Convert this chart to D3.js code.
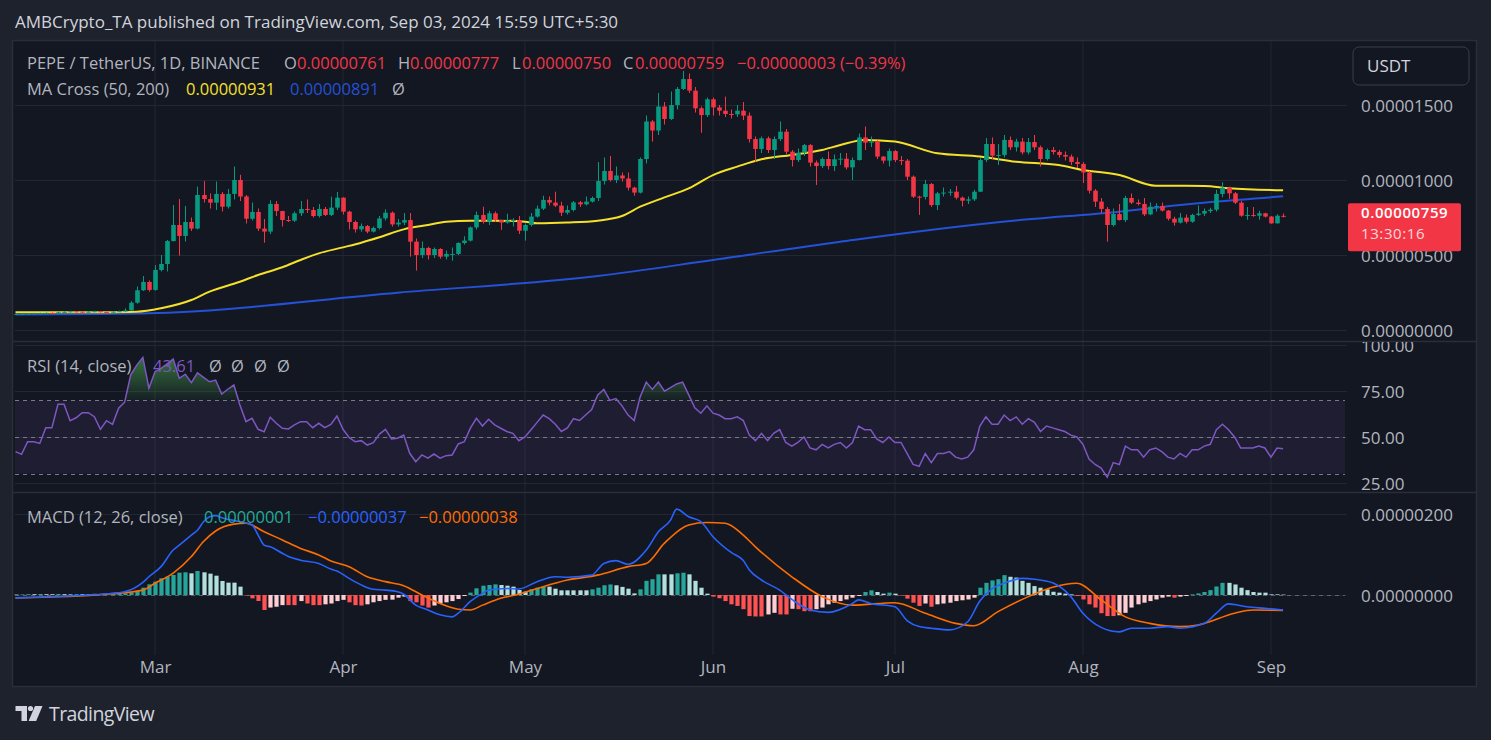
<!DOCTYPE html>
<html><head><meta charset="utf-8">
<script src="https://cdn.jsdelivr.net/npm/d3@7"></script>
<style>
html,body{margin:0;padding:0;background:#1e222d;overflow:hidden}
svg{display:block}
</style></head><body>
<svg id="c" width="1491" height="740"></svg>
<script>
// ---------------- DATA (prices in units of 1e-6 USDT) ----------------
const startDate = "2024-02-07";           // first daily candle
const firstOpen = 1.06;                  // open of first candle (later opens = previous close unless listed)
const openOverride = {209: 7.61};        // opens
const close = [
1.07,1.08,1.10,1.11,1.12,1.14,1.13,1.18,1.21,1.24,1.22,1.20,1.22,1.25,1.20,1.19,1.22,1.25,1.30,
1.82,2.65,3.20,2.67,
4.00,4.40,5.93,7.00,6.27,7.20,6.76,9.00,8.73,8.49,
9.07,8.22,9.07,10.00,8.90,7.42,7.87,6.76,6.56,8.40,
7.93,7.33,7.29,7.78,8.07,8.00,7.60,8.07,7.67,8.16,
8.82,7.89,7.20,6.71,6.93,6.56,6.80,7.44,7.82,7.04,
7.16,7.33,5.89,5.00,5.47,5.00,5.40,4.89,5.07,5.07,
5.80,5.96,6.84,7.67,7.22,7.78,7.33,7.16,7.30,7.33,
6.62,7.00,7.56,8.09,8.67,8.49,8.29,7.82,8.00,8.51,
8.38,8.56,8.80,9.93,10.60,10.00,10.30,10.10,9.49,9.16,
11.40,13.90,13.30,14.90,14.07,15.00,16.07,16.73,15.96,14.78,
14.33,15.38,14.84,14.62,14.40,14.38,14.62,14.29,12.73,12.07,
12.78,12.00,12.73,13.22,11.89,11.33,11.82,12.33,11.16,10.93,
11.40,10.93,11.38,11.42,10.84,11.33,12.84,12.49,12.56,11.56,
11.29,11.93,11.33,11.29,10.22,8.89,8.87,9.73,8.33,9.11,
9.16,9.22,8.82,8.62,8.71,9.22,11.33,12.40,11.62,11.67,
12.67,12.18,12.56,11.84,12.53,12.18,11.40,12.00,11.87,11.67,
11.56,11.20,11.07,10.50,9.29,8.56,8.07,7.00,7.73,7.33,
8.80,8.49,8.40,7.71,8.22,8.27,7.96,7.42,7.16,7.49,
7.22,7.67,7.76,7.93,8.02,9.07,9.49,9.11,8.49,7.62,
7.67,7.62,7.78,7.56,7.11,7.62,7.59];
const high = [
1.10,1.11,1.12,1.14,1.15,1.17,1.17,1.22,1.25,1.28,1.27,1.24,1.25,1.29,1.27,1.23,1.25,1.29,1.45,
1.92,2.90,3.60,3.30,
4.33,5.00,6.00,8.33,8.73,8.27,7.50,9.56,9.93,9.10,
9.90,9.20,9.40,10.90,10.35,9.00,8.50,8.10,7.40,8.65,
8.60,7.95,7.60,7.90,8.60,8.70,8.20,8.40,8.20,8.89,
9.20,8.85,7.95,7.30,7.10,7.00,6.90,7.60,8.05,7.90,
7.40,7.80,7.80,6.10,5.90,5.55,5.50,5.45,5.30,5.50,
5.85,6.25,6.90,7.90,8.22,7.95,7.90,7.35,7.75,7.45,
7.60,7.10,7.80,8.30,8.95,8.90,9.22,8.55,8.30,8.60,
8.60,8.90,8.90,11.20,11.50,11.60,10.90,10.50,10.50,9.55,
11.50,14.30,14.00,15.80,15.20,15.90,16.20,17.27,17.10,16.20,
14.90,15.50,15.50,15.00,15.56,14.70,15.00,15.20,14.50,12.90,
12.90,12.90,12.90,13.90,13.40,12.00,12.10,12.40,12.40,11.30,
11.50,11.90,11.70,11.80,11.80,11.50,13.10,13.56,12.90,12.65,
11.60,12.10,12.00,11.60,11.40,10.30,8.95,10.00,9.80,9.20,
9.50,9.40,9.60,8.90,8.90,9.35,11.45,12.80,12.84,12.40,
13.00,12.90,12.75,12.80,12.80,13.00,12.30,12.10,12.20,12.00,
11.90,11.70,11.50,11.20,10.60,9.40,8.80,8.20,8.10,8.40,
8.95,9.10,8.70,8.80,8.50,8.45,8.50,8.00,7.55,7.80,
7.70,7.75,8.30,8.10,8.15,9.35,9.84,9.55,9.20,8.60,
8.20,8.20,7.95,7.82,7.60,7.72,7.77];
const low = [
1.04,1.05,1.06,1.08,1.09,1.10,1.10,1.12,1.16,1.19,1.18,1.15,1.18,1.19,1.17,1.15,1.17,1.20,1.22,
1.28,1.75,2.60,2.55,
2.62,3.90,3.90,5.90,4.96,5.90,6.60,6.70,8.50,8.10,
8.00,7.90,8.10,8.70,8.60,7.10,7.30,6.60,5.82,6.40,
7.60,6.90,7.20,7.20,7.60,7.80,7.50,7.50,7.60,7.60,
8.00,7.70,6.70,6.50,6.55,6.45,6.50,6.70,7.30,6.90,
6.90,7.00,4.89,3.96,4.80,4.70,4.80,4.75,4.70,4.62,
5.00,5.70,5.90,6.70,7.10,7.00,7.20,6.67,7.10,6.90,
6.40,5.96,6.90,7.50,8.00,8.30,8.20,7.60,7.70,7.90,
8.20,8.30,8.50,8.60,9.70,9.90,9.80,9.90,9.30,8.95,
9.10,11.10,12.56,13.00,13.70,14.00,14.70,16.00,15.80,14.50,
13.15,14.20,14.30,14.30,14.20,14.10,14.20,14.00,12.50,11.22,
11.80,11.80,11.40,12.60,11.70,10.90,11.20,11.60,10.90,9.67,
10.80,10.70,10.60,11.00,10.70,10.00,11.30,12.00,12.20,11.40,
11.10,10.90,11.20,11.00,10.00,8.80,7.67,8.70,8.20,8.00,
8.90,8.95,8.70,8.25,8.40,8.60,9.20,11.20,11.40,11.00,
11.50,12.00,11.90,11.70,11.70,12.00,10.90,11.30,11.70,11.50,
11.30,11.00,10.80,9.80,9.10,8.20,7.80,5.89,6.90,7.30,
7.20,8.40,8.30,7.60,7.65,7.90,7.90,7.30,6.95,7.10,
7.10,7.15,7.60,7.60,7.80,7.90,8.85,8.75,8.40,7.55,
7.35,7.55,7.35,7.50,7.08,7.10,7.50];

// MA Cross (at these candle indexes)
const ma50Idx = [0,14,20,24,29,32,37,40,44,47,50,54,57,60,64,68,71,75,79,84,86,91,96,100,103,107,111,115,119,123,128,133,136,140,145,152,159,165,172,176,182,188,196,200,209];
const ma50Val = [1.18,1.19,1.22,1.45,2.00,2.56,3.22,3.67,4.18,4.67,5.11,5.51,5.82,6.18,6.71,7.00,7.22,7.29,7.29,7.22,7.11,7.16,7.29,7.60,8.22,8.84,9.44,10.33,10.89,11.38,11.67,12.00,12.33,12.67,12.56,11.78,11.56,11.22,11.00,10.67,10.33,9.62,9.60,9.45,9.31];
const ma200Idx = [0,14,22,63,96,115,136,167,171,182,192,198,209];
const ma200Val = [1.03,1.07,1.11,2.49,3.60,4.67,5.89,7.38,7.51,7.89,8.33,8.56,8.91];

// RSI (14) per candle
const rsi = [
42,40.5,47.4,47.4,46.5,55,55,67.9,67.9,58.9,
60.5,63.3,63.3,61.1,54.2,58.9,56.9,65.7,69,84,
89.3,93.5,76.6,85.7,87.5,90,92.6,82.1,84.3,79.7,
85.1,82.6,80.2,81.1,73.5,76.1,78.4,67.5,58.4,60.2,
54.2,52.9,60.8,57.5,54.8,54.4,56.6,58.4,58.4,55.1,
57.5,55.1,56.9,61.5,54.2,49.8,47.4,48,45.6,46.9,
51.6,54.2,48.9,49.3,51.1,41.1,36.5,40.2,38.4,40.7,
38.4,39.8,40.2,46.2,47.4,54.8,60.2,56,59.7,56.6,
54.8,53,52,48,50,54,58,62,60,57,
53,55,60,59,62,65,73,76,70,71,
67,62,59,72,80,76,80,75,77,79,
80,73,66,63,67,63,62,60,60,61,
59,51,48,52,48,52,54,47,45,47,
50,44,43,46,44,46,47,44,47,56,
54,54,49,47,50,47,47,41,35,34,
41,36,41,41,42,39,38,39,43,56,
61,57,57,62,59,61,57,60,58,53,
56,55,54,53,51,50,46,38,35,33,
28,36,35,45,43,43,39,43,44,42,
39,38,41,39,43,43,45,46,54,57,
54,50,44,44,44,45,44,39,44,43.61];

// MACD (12, 26) histogram per candle
const hist = [
0.01,0.015,0.02,0.02,0.025,0.02,0.02,0.025,0.02,0.015,0.02,0.02,0.025,0.03,0.02,0.015,0.02,0.03,0.04,
0.058,0.107,0.181,0.263,
0.329,0.412,0.453,0.494,0.551,0.56,0.535,0.593,0.56,0.527,
0.477,0.346,0.305,0.305,0.206,-0.01,-0.082,-0.148,-0.37,-0.31,
-0.29,-0.25,-0.25,-0.25,-0.15,-0.21,-0.25,-0.25,-0.23,-0.21,
-0.15,-0.12,-0.18,-0.25,-0.26,-0.23,-0.18,-0.15,-0.12,-0.115,
-0.066,-0.04,-0.15,-0.18,-0.26,-0.31,-0.26,-0.21,-0.18,-0.15,
-0.10,-0.025,0.058,0.165,0.23,0.247,0.263,0.247,0.23,0.206,
0.123,0.082,0.14,0.18,0.206,0.206,0.156,0.115,0.115,0.115,
0.115,0.115,0.14,0.18,0.24,0.26,0.24,0.20,0.156,0.04,
0.14,0.35,0.39,0.51,0.51,0.51,0.535,0.55,0.51,0.35,
0.18,0.033,-0.04,-0.08,-0.15,-0.23,-0.27,-0.35,-0.52,-0.53,
-0.53,-0.48,-0.44,-0.48,-0.48,-0.34,-0.35,-0.40,-0.40,-0.35,
-0.31,-0.23,-0.19,-0.15,-0.11,-0.066,-0.025,0.074,0.115,0.074,
0.033,0.058,0.033,-0.008,-0.09,-0.19,-0.27,-0.21,-0.29,-0.23,
-0.21,-0.19,-0.15,-0.13,-0.11,-0.066,0.18,0.30,0.36,0.39,
0.49,0.45,0.43,0.35,0.30,0.22,0.18,0.14,0.08,0.058,
0.033,0.016,-0.025,-0.11,-0.23,-0.31,-0.45,-0.52,-0.52,-0.50,
-0.44,-0.31,-0.23,-0.19,-0.15,-0.11,-0.066,-0.04,-0.066,-0.04,
-0.025,0.016,0.04,0.074,0.12,0.21,0.30,0.30,0.26,0.18,
0.12,0.074,0.058,0.058,0.016,0.016,0.01];
// MACD & signal lines read at these candle indexes
const macdIdx = [0,15,18,21,22,24,26,27,29,30,31,32,33,34,37,39,40,41,42,44,45,47,50,52,53,55,57,59,61,63,64,66,68,70,72,73,75,77,78,81,83,86,89,91,95,97,99,101,104,106,108,109,111,113,115,118,120,121,123,126,128,131,134,138,139,141,145,147,149,151,154,157,159,161,163,166,168,171,174,176,179,182,184,187,190,192,196,198,200,203,206,209];
const macdVal = [-0.07,0.03,0.08,0.31,0.45,0.70,1.11,1.23,1.48,1.60,1.81,1.93,1.96,1.91,1.81,1.73,1.48,1.23,1.19,1.03,0.95,0.86,0.78,0.64,0.59,0.41,0.25,0.14,0.12,0.08,0.02,-0.25,-0.37,-0.49,-0.54,-0.45,-0.16,0.04,0.12,0.16,0.15,0.33,0.45,0.44,0.49,0.78,0.85,0.76,1.11,1.56,1.85,2.12,1.93,1.81,1.44,1.05,0.85,0.62,0.37,0.12,-0.11,-0.37,-0.43,-0.21,-0.12,-0.21,-0.29,-0.63,-0.78,-0.82,-0.86,-0.66,-0.15,0.15,0.29,0.41,0.39,0.30,-0.04,-0.45,-0.80,-0.91,-0.82,-0.82,-0.78,-0.82,-0.70,-0.45,-0.22,-0.29,-0.33,-0.37];
const signalIdx = [0,15,21,23,26,29,31,33,36,38,41,44,47,50,52,55,58,61,64,67,70,73,75,77,80,83,86,91,96,101,104,107,111,114,117,120,122,128,133,138,145,150,155,158,162,167,171,175,179,183,187,192,195,201,204,209];
const signalVal = [-0.07,0.02,0.12,0.29,0.54,0.95,1.32,1.58,1.75,1.77,1.56,1.36,1.15,0.99,0.84,0.70,0.45,0.33,0.23,0.00,-0.21,-0.35,-0.37,-0.25,-0.08,0.02,0.16,0.37,0.49,0.70,0.78,1.28,1.73,1.79,1.77,1.48,1.19,0.45,-0.04,-0.25,-0.19,-0.45,-0.70,-0.76,-0.41,-0.04,0.19,0.29,-0.12,-0.54,-0.70,-0.78,-0.74,-0.45,-0.37,-0.38];

// axis ticks
const priceTicks = [0, 5, 10, 15];
const rsiTicks = [25, 50, 75, 100];
const rsiBands = [70, 50, 30];
const macdTicks = [0, 2];

// ---------------- LAYOUT ----------------
const W = 1491, H = 740;
const plotL = 15, plotR = 1345, dayW = 6.065;
const main = {top: 41, bot: 341};
const rsiP = {top: 342, bot: 492};
const macdP = {top: 493, bot: 655};
const FONT = "'Open Sans', Roboto, sans-serif";
const TXT = "#b2b5be", GRID = "#232733", SEP = "#2a2e39";
const UP = "#089981", DN = "#f23645";
const MINUS = "\u2212";

const dates = close.map((_, i) => d3.utcDay.offset(new Date(startDate), i));
const open = close.map((c, i) => openOverride[i] !== undefined ? openOverride[i] : (i === 0 ? firstOpen : close[i - 1]));

const t0 = dates[0].getTime() - (0.5 / dayW) * 864e5;
const t1 = t0 + ((plotR - plotL) / dayW) * 864e5;
const x = d3.scaleUtc().domain([new Date(t0), new Date(t1)]).range([plotL, plotR]);
const yP = d3.scaleLinear().domain([0, 15]).range([330, 105]);
const yR = d3.scaleLinear().domain([30, 70]).range([473.6, 400.4]);
const yM = d3.scaleLinear().domain([0, 2]).range([595, 514]);

const svg = d3.select("#c");
const defs = svg.append("defs");
function clip(id, y0, y1) {
  defs.append("clipPath").attr("id", id).append("rect")
    .attr("x", plotL - 2).attr("y", y0).attr("width", plotR - plotL + 2).attr("height", y1 - y0);
}
clip("cMain", main.top, main.bot); clip("cRsi", rsiP.top, rsiP.bot); clip("cMacd", macdP.top, macdP.bot);
defs.append("clipPath").attr("id", "cRsiAxis").append("rect")
  .attr("x", 1346).attr("y", rsiP.top).attr("width", 130).attr("height", rsiP.bot - rsiP.top);

// backgrounds
svg.append("rect").attr("width", W).attr("height", H).attr("fill", "#1e222d");
svg.append("rect").attr("x", 13).attr("y", 41).attr("width", 1463).attr("height", 645).attr("fill", "#131722");

// header
svg.append("text").attr("x", 15).attr("y", 28).attr("fill", "#d1d4dc")
  .attr("font-family", FONT).attr("font-size", 17)
  .text("AMBCrypto_TA published on TradingView.com, Sep 03, 2024 15:59 UTC+5:30");

// month grid
const months = d3.utcMonth.range(d3.utcDay.offset(dates[0], 1), d3.utcDay.offset(dates[dates.length - 1], 8));
svg.append("g").selectAll("line").data(months).join("line")
  .attr("x1", d => x(d)).attr("x2", d => x(d)).attr("y1", main.top).attr("y2", macdP.bot)
  .attr("stroke", GRID).attr("stroke-width", 1);

// horizontal grids
function hgrid(vals, sc) {
  svg.append("g").selectAll("line").data(vals).join("line")
    .attr("x1", plotL).attr("x2", plotR + 2).attr("y1", d => Math.round(sc(d)) + 0.5).attr("y2", d => Math.round(sc(d)) + 0.5)
    .attr("stroke", GRID).attr("stroke-width", 1);
}
hgrid(priceTicks, yP); hgrid(rsiTicks, yR); hgrid(macdTicks, yM);

// pane separators & frame
[main.bot + 0.5, rsiP.bot + 0.5].forEach(yy =>
  svg.append("line").attr("x1", 13).attr("x2", 1476).attr("y1", yy).attr("y2", yy).attr("stroke", SEP).attr("stroke-width", 1.5));
svg.append("rect").attr("x", 12.5).attr("y", 40.5).attr("width", 1464).attr("height", 646)
  .attr("fill", "none").attr("stroke", SEP).attr("stroke-width", 1.5);

// ---------- main pane ----------
const gMain = svg.append("g").attr("clip-path", "url(#cMain)");
const maLine = d3.line().x(d => x(dates[d[0]])).y(d => yP(d[1])).curve(d3.curveMonotoneX);
gMain.append("path").attr("d", maLine(ma200Idx.map((d, i) => [d, ma200Val[i]])))
  .attr("fill", "none").attr("stroke", "#2451d6").attr("stroke-width", 2);
gMain.append("path").attr("d", maLine(ma50Idx.map((d, i) => [d, ma50Val[i]])))
  .attr("fill", "none").attr("stroke", "#f5e12a").attr("stroke-width", 2);

const candles = gMain.append("g").selectAll("g").data(dates).join("g");
candles.append("line")
  .attr("x1", (d) => Math.round(x(d)) + 0.5).attr("x2", (d) => Math.round(x(d)) + 0.5)
  .attr("y1", (d, i) => yP(high[i])).attr("y2", (d, i) => yP(low[i]))
  .attr("stroke", (d, i) => close[i] >= open[i] ? UP : DN).attr("stroke-width", 1);
candles.append("rect")
  .attr("x", d => Math.round(x(d)) + 0.5 - 2.3).attr("width", 4.6)
  .attr("y", (d, i) => yP(Math.max(open[i], close[i])))
  .attr("height", (d, i) => Math.max(1, Math.abs(yP(open[i]) - yP(close[i]))))
  .attr("fill", (d, i) => close[i] >= open[i] ? UP : DN);

// ---------- RSI pane ----------
const gR = svg.append("g").attr("clip-path", "url(#cRsi)");
gR.append("rect").attr("x", plotL).attr("width", plotR - plotL).attr("y", yR(70)).attr("height", yR(30) - yR(70))
  .attr("fill", "rgba(126,87,194,0.1)");
const gradOB = defs.append("linearGradient").attr("id", "gOB").attr("gradientUnits", "userSpaceOnUse")
  .attr("x1", 0).attr("x2", 0).attr("y1", yR(100)).attr("y2", yR(70));
gradOB.append("stop").attr("offset", 0).attr("stop-color", "rgba(76,175,80,0.75)");
gradOB.append("stop").attr("offset", 1).attr("stop-color", "rgba(76,175,80,0.05)");
const gradOS = defs.append("linearGradient").attr("id", "gOS").attr("gradientUnits", "userSpaceOnUse")
  .attr("x1", 0).attr("x2", 0).attr("y1", yR(30)).attr("y2", yR(0));
gradOS.append("stop").attr("offset", 0).attr("stop-color", "rgba(242,54,69,0.05)");
gradOS.append("stop").attr("offset", 1).attr("stop-color", "rgba(242,54,69,0.75)");
gR.append("path").attr("d", d3.area().x((d, i) => x(dates[i])).y0(yR(70)).y1(d => yR(Math.max(d, 70)))(rsi))
  .attr("fill", "url(#gOB)");
gR.append("path").attr("d", d3.area().x((d, i) => x(dates[i])).y0(yR(30)).y1(d => yR(Math.min(d, 30)))(rsi))
  .attr("fill", "url(#gOS)");
gR.selectAll("line.band").data(rsiBands).join("line").attr("class", "band")
  .attr("x1", plotL).attr("x2", plotR + 4).attr("y1", d => Math.round(yR(d)) + 0.5).attr("y2", d => Math.round(yR(d)) + 0.5)
  .attr("stroke", "#787b86").attr("stroke-dasharray", "4,4").attr("stroke-width", 1);
gR.append("path").attr("d", d3.line().x((d, i) => x(dates[i])).y(d => yR(d))(rsi))
  .attr("fill", "none").attr("stroke", "#7e57c2").attr("stroke-width", 1.5);

// ---------- MACD pane ----------
const gM = svg.append("g").attr("clip-path", "url(#cMacd)");
gM.append("line").attr("x1", plotL).attr("x2", plotR + 4).attr("y1", yM(0) + 0.5).attr("y2", yM(0) + 0.5)
  .attr("stroke", "#787b86").attr("stroke-opacity", 0.7).attr("stroke-dasharray", "4,4");
const histColor = (h, i) => {
  const p = i > 0 ? hist[i - 1] : h;
  if (h >= 0) return h > p ? "#26a69a" : "#b2dfdb";
  return h > p ? "#ffcdd2" : "#ff5252";
};
gM.append("g").selectAll("rect").data(hist).join("rect")
  .attr("x", (d, i) => Math.round(x(dates[i])) + 0.5 - 2.1).attr("width", 4.2)
  .attr("y", d => Math.min(yM(0), yM(d))).attr("height", d => Math.max(0.5, Math.abs(yM(d) - yM(0))))
  .attr("fill", histColor);
const mLine = d3.line().x(d => x(dates[d[0]])).y(d => yM(d[1])).curve(d3.curveMonotoneX);
gM.append("path").attr("d", mLine(signalIdx.map((d, i) => [d, signalVal[i]])))
  .attr("fill", "none").attr("stroke", "#ff6d00").attr("stroke-width", 1.6);
gM.append("path").attr("d", mLine(macdIdx.map((d, i) => [d, macdVal[i]])))
  .attr("fill", "none").attr("stroke", "#2962ff").attr("stroke-width", 1.6);

// ---------- axes ----------
function styleAxis(g) {
  g.attr("font-family", FONT).attr("font-size", 17);
  g.select(".domain").remove();
  g.selectAll(".tick line").remove();
  g.selectAll("text").attr("fill", TXT);
}
const fmt8 = v => (v * 1e-6).toFixed(8);
const fmtS = v => (v < 0 ? MINUS : "") + fmt8(Math.abs(v));
svg.append("g").attr("transform", "translate(1361,0)")
  .call(d3.axisRight(yP).tickValues(priceTicks).tickFormat(fmt8).tickSize(0).tickPadding(0))
  .call(styleAxis).selectAll("text").attr("dy", "0.38em");
svg.append("g").attr("clip-path", "url(#cRsiAxis)").append("g").attr("transform", "translate(1361,0)")
  .call(d3.axisRight(yR).tickValues(rsiTicks).tickFormat(d3.format(".2f")).tickSize(0).tickPadding(0))
  .call(styleAxis).selectAll("text").attr("dy", "0.38em");
svg.append("g").attr("transform", "translate(1361,0)")
  .call(d3.axisRight(yM).tickValues(macdTicks).tickFormat(fmt8).tickSize(0).tickPadding(0))
  .call(styleAxis).selectAll("text").attr("dy", "0.38em");
svg.append("g").attr("transform", "translate(0,661)")
  .call(d3.axisBottom(x).tickValues(months).tickFormat(d3.utcFormat("%b")).tickSize(0).tickPadding(0))
  .call(styleAxis);

// currency box
svg.append("rect").attr("x", 1353).attr("y", 47).attr("width", 116).attr("height", 38).attr("rx", 6)
  .attr("fill", "#131722").attr("stroke", "#3a3e4a").attr("stroke-width", 1);
svg.append("text").attr("x", 1367).attr("y", 72).attr("fill", "#d1d4dc").attr("font-family", FONT)
  .attr("font-size", 17).text("USDT");

// last price label
const last = close.length - 1;
const ly = yP(close[last]);
svg.append("rect").attr("x", 1348).attr("y", ly - 13).attr("width", 113).attr("height", 48).attr("rx", 2).attr("fill", DN);
svg.append("text").attr("x", 1361).attr("y", ly + 2.3).attr("fill", "#ffffff").attr("font-family", FONT)
  .attr("font-size", 15).attr("font-weight", 600).attr("letter-spacing", 0.6).text(fmt8(close[last]));
svg.append("text").attr("x", 1361).attr("y", ly + 22.7).attr("fill", "rgba(255,255,255,0.8)").attr("font-family", FONT)
  .attr("font-size", 15).attr("letter-spacing", 0.6).text("13:30:16");

// ---------- legends ----------
function legend(y, parts) {
  const t = svg.append("text").attr("y", y).attr("font-family", FONT).attr("font-size", 16.5);
  parts.forEach(p => t.append("tspan").attr("x", p[0]).attr("fill", p[2]).text(p[1]));
}
const chg = close[last] - close[last - 1];
const pct = chg / close[last - 1] * 100;
legend(69, [[27, "PEPE / TetherUS, 1D, BINANCE", TXT], [284, "O", TXT], [297, fmt8(open[last]), DN],
  [398, "H", TXT], [410, fmt8(high[last]), DN], [512, "L", TXT], [522, fmt8(low[last]), DN],
  [623, "C", TXT], [635, fmt8(close[last]), DN],
  [737, fmtS(chg) + " (" + (pct < 0 ? MINUS : "+") + Math.abs(pct).toFixed(2) + "%)", DN]]);
legend(95, [[27, "MA Cross (50, 200)", TXT], [186, fmt8(ma50Val[ma50Val.length - 1]), "#f5e12a"],
  [290, fmt8(ma200Val[ma200Val.length - 1]), "#2451d6"], [392, "Ø", TXT]]);
legend(372, [[27, "RSI (14, close)", TXT], [153, rsi[last].toFixed(2), "#7e57c2"],
  [209, "Ø", TXT], [231, "Ø", TXT], [254, "Ø", TXT], [277, "Ø", TXT]]);
legend(523, [[27, "MACD (12, 26, close)", TXT], [204, fmt8(hist[last]), "#22ab94"],
  [308, fmtS(macdVal[macdVal.length - 1]), "#2962ff"],
  [419, fmtS(signalVal[signalVal.length - 1]), "#ff6d00"]]);

// ---------- footer logo ----------
const lg = svg.append("g").attr("fill", "#d1d4dc");
lg.append("path").attr("d", "M15.5,706 H27 V721 H21.5 V711 H15.5 Z");
lg.append("circle").attr("cx", 30.5).attr("cy", 708.5).attr("r", 2.6);
lg.append("path").attr("d", "M35,706 H42.5 L36.2,721 H28.6 Z");
svg.append("text").attr("x", 49).attr("y", 720.5).attr("fill", "#d1d4dc").attr("font-family", FONT)
  .attr("font-size", 19.5).attr("letter-spacing", -0.6).text("TradingView");
</script>
</body></html>
